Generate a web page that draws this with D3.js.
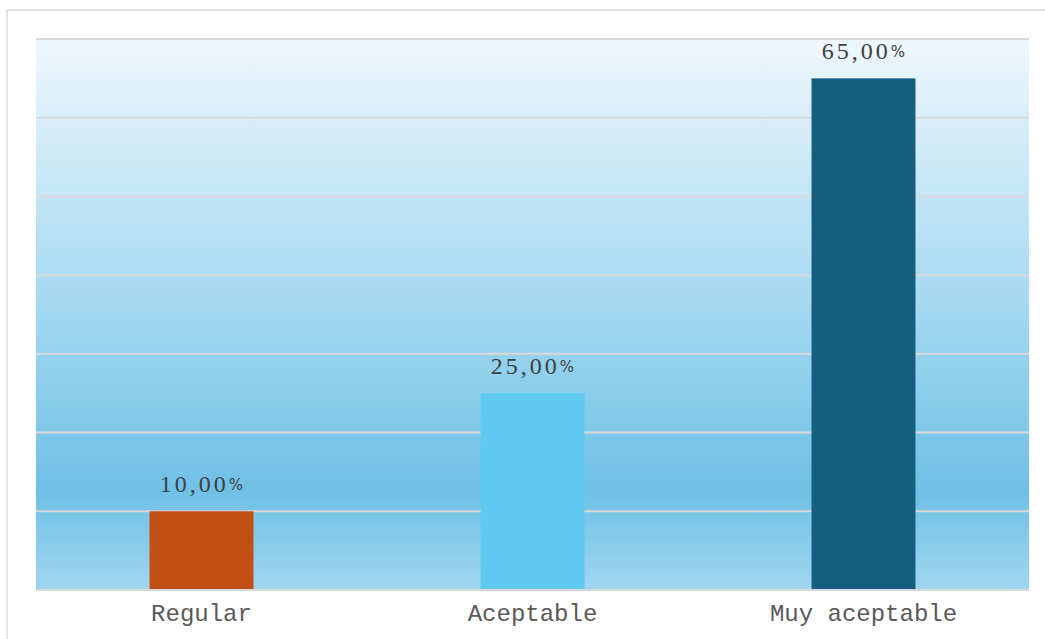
<!DOCTYPE html>
<html>
<head>
<meta charset="utf-8">
<script src="https://cdn.jsdelivr.net/npm/d3@7"></script>
<style>
  body { margin: 0; background: #fff; }
  .axisLabel { font-family: "Liberation Mono", "Courier New", monospace; font-size: 24px; fill: #595959; }
  .valueLabel { font-family: "Liberation Serif", "Times New Roman", serif; font-size: 24px; fill: #404040; letter-spacing: 3px; }
</style>
</head>
<body>
<script>
var categories = ["Regular", "Aceptable", "Muy aceptable"];
var values = [10, 25, 65];
var barColors = ["#c05014", "#5ecaf0", "#155e80"];
var gridTicks = [0, 10, 20, 30, 40, 50, 60, 70];

var margin = {top: 39, right: 16, bottom: 49, left: 36},
    width = 1045 - margin.left - margin.right,
    height = 639 - margin.top - margin.bottom;

var root = d3.select("body").append("svg")
    .attr("width", 1045)
    .attr("height", 639);

// outer frame
root.append("rect")
    .attr("x", 7).attr("y", 10)
    .attr("width", 1045).attr("height", 640)
    .attr("fill", "none")
    .attr("stroke", "#d9d9d9")
    .attr("stroke-width", 1.5);

var defs = root.append("defs");
var grad = defs.append("linearGradient")
    .attr("id", "bg")
    .attr("x1", 0).attr("y1", 0).attr("x2", 0).attr("y2", 1);
grad.append("stop").attr("offset", "0%").attr("stop-color", "#eff7fd");
grad.append("stop").attr("offset", "45%").attr("stop-color", "#a9dbf2");
grad.append("stop").attr("offset", "82%").attr("stop-color", "#6fc0e6");
grad.append("stop").attr("offset", "100%").attr("stop-color", "#a0d6f0");

var svg = root.append("g")
    .attr("transform", "translate(" + margin.left + "," + margin.top + ")");

var x = d3.scaleBand()
    .range([0, width])
    .paddingInner(0.686)
    .paddingOuter(0.343)
    .domain(categories);

var y = d3.scaleLinear()
    .range([height, 0])
    .domain([0, 70]);

svg.append("rect")
    .attr("x", 0).attr("y", 0)
    .attr("width", width).attr("height", height)
    .attr("fill", "url(#bg)");

svg.append("g")
    .selectAll("line")
    .data(gridTicks)
    .enter()
    .append("line")
    .attr("x1", 0)
    .attr("x2", width)
    .attr("y1", function (d) { return y(d); })
    .attr("y2", function (d) { return y(d); })
    .attr("stroke", "#d9d9d9")
    .attr("stroke-width", 2);

svg.selectAll(".bar")
    .data(values)
    .enter()
    .append("rect")
    .attr("class", "bar")
    .attr("x", function (d, i) { return x(categories[i]); })
    .attr("y", function (d) { return y(d); })
    .attr("width", x.bandwidth())
    .attr("height", function (d) { return y(0) - y(d); })
    .attr("fill", function (d, i) { return barColors[i]; });

// redraw baseline over bars
svg.append("line")
    .attr("x1", 0).attr("x2", width)
    .attr("y1", y(0)).attr("y2", y(0))
    .attr("stroke", "#d9d9d9")
    .attr("stroke-width", 2);

var labels = svg.append("g")
    .selectAll("text")
    .data(values)
    .enter()
    .append("text")
    .attr("class", "valueLabel")
    .attr("text-anchor", "middle")
    .attr("x", function (d, i) { return x(categories[i]) + x.bandwidth() / 2; })
    .attr("y", function (d) { return y(d) - 19; });
labels.append("tspan").text(function (d) { return d.toFixed(2).replace(".", ","); });
labels.append("tspan")
    .attr("dy", -2)
    .style("font-family", "'DejaVu Sans', sans-serif")
    .style("font-size", "15px")
    .style("letter-spacing", "0px")
    .text("%");

svg.append("g")
    .selectAll("text")
    .data(categories)
    .enter()
    .append("text")
    .attr("class", "axisLabel")
    .attr("text-anchor", "middle")
    .attr("x", function (d) { return x(d) + x.bandwidth() / 2; })
    .attr("y", height + 31)
    .text(function (d) { return d; });
</script>
</body>
</html>
